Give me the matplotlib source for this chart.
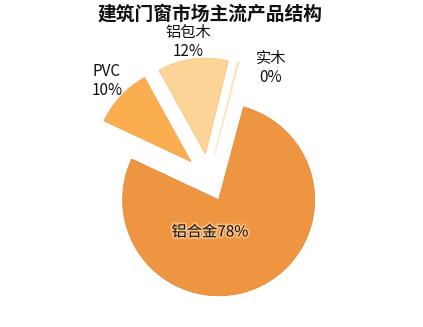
import matplotlib.pyplot as plt
import matplotlib.patheffects as pe

plt.rcParams['font.family'] = ['Noto Sans CJK SC', 'DejaVu Sans']

# data (实木 is a tiny sliver that rounds to 0%)
labels = ['铝合金', 'PVC', '铝包木', '实木']
values = [77.8, 10.0, 11.9, 0.3]
colors = ['#EE9541', '#FBAE50', '#FCD497', '#FEEBC8']
edges = ['#E8893A', '#F7A449', '#FBC981', '#FDE3B8']

W, H = 423, 327
fig = plt.figure(figsize=(W / 100, H / 100), dpi=100)

# pie centre at (208.5, 178) px, radius 96 px, every slice pulled out a bit
r_px = 96
cx, cy = 208.5, 178
ax = fig.add_axes([(cx - r_px) / W, (H - cy - r_px) / H, 2 * r_px / W, 2 * r_px / H])

wedges, _ = ax.pie(values, colors=colors, explode=[0.25] * 4, startangle=75,
                   counterclock=False, radius=1.0,
                   wedgeprops=dict(linewidth=0.6))
for w, ec in zip(wedges, edges):
    w.set_edgecolor(ec)
    w.set_clip_on(False)
ax.set_xlim(-1, 1)
ax.set_ylim(-1, 1)
ax.set_aspect('equal')
ax.axis('off')

pct = ['%.0f%%' % v for v in values]

# data labels
fig.text(210 / W, 1 - 232 / H, labels[0] + pct[0], ha='center', va='center',
         fontsize=11, color='#111111',
         path_effects=[pe.withStroke(linewidth=2.5, foreground='#F8BD80')])
fig.text(107 / W, 1 - 81 / H, labels[1] + '\n' + pct[1], ha='center', va='center',
         fontsize=11, color='#111111', linespacing=1.2)
fig.text(188 / W, 1 - 42 / H, labels[2] + '\n' + pct[2], ha='center', va='center',
         fontsize=11, color='#111111', linespacing=1.2)
fig.text(271 / W, 1 - 68 / H, labels[3] + '\n' + pct[3], ha='center', va='center',
         fontsize=11, color='#111111', linespacing=1.2)

fig.text(210 / W, 1 - 14 / H, '建筑门窗市场主流产品结构', ha='center', va='center',
         fontsize=13.5, fontweight='bold', color='#111111')

fig.savefig('out.png', dpi=100)
